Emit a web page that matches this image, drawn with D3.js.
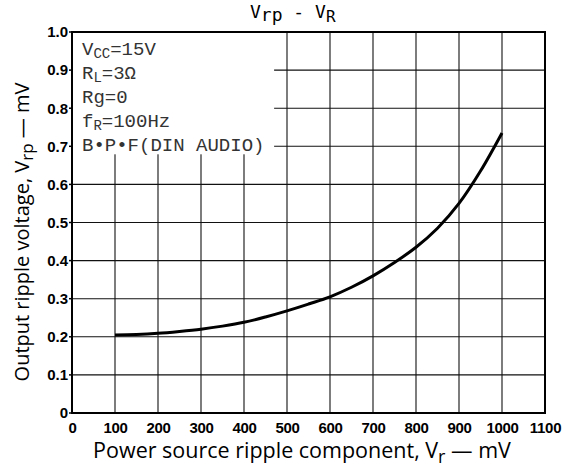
<!DOCTYPE html>
<html><head><meta charset="utf-8">
<script src="https://cdn.jsdelivr.net/npm/d3@7"></script>
<style>
body{margin:0;background:#fff;}
svg{display:block;}
</style></head>
<body>
<svg id="chart" width="570" height="471"></svg>
<script>
const xTicks = [0,100,200,300,400,500,600,700,800,900,1000,1100];
const yTicks = [0,0.1,0.2,0.3,0.4,0.5,0.6,0.7,0.8,0.9,1.0];
const yTickLabels = ["0","0.1","0.2","0.3","0.4","0.5","0.6","0.7","0.8","0.9","1.0"];
const vr  = [100,150,200,250,300,350,400,450,500,550,600,650,700,750,800,850,900,950,1000];
const vrp = [0.205,0.206,0.209,0.214,0.220,0.228,0.238,0.252,0.268,0.286,0.305,0.330,0.360,0.395,0.435,0.485,0.550,0.635,0.735];
const notes = ["VCC=15V","RL=3Ω","Rg=0","fR=100Hz","B•P•F(DIN AUDIO)"];

const svg = d3.select("#chart");
const L=72, R=545, T=32, B=413;
const x = d3.scaleLinear().domain([0,1100]).range([L,R]);
const y = d3.scaleLinear().domain([0,1.0]).range([B,T]);

// grid
const g = svg.append("g");
g.selectAll("line.v").data(xTicks.slice(1,-1)).join("line")
  .attr("x1",d=>x(d)).attr("x2",d=>x(d)).attr("y1",T).attr("y2",B)
  .attr("stroke","#111").attr("stroke-width",1.1);
g.selectAll("line.h").data(yTicks.slice(1,-1)).join("line")
  .attr("x1",L).attr("x2",R).attr("y1",d=>y(d)).attr("y2",d=>y(d))
  .attr("stroke","#111").attr("stroke-width",1.1);

// annotation box (covers grid)
svg.append("rect").attr("x",L+1).attr("y",T+1).attr("width",x(470)-L-1).attr("height",y(0.7)+7-T)
  .attr("fill","#fff");

// frame
svg.append("rect").attr("x",L).attr("y",T).attr("width",R-L).attr("height",B-T)
  .attr("fill","none").attr("stroke","#000").attr("stroke-width",2);

// left ticks
svg.selectAll("line.lt").data(yTicks).join("line")
  .attr("x1",L-3).attr("x2",L).attr("y1",d=>y(d)).attr("y2",d=>y(d))
  .attr("stroke","#000").attr("stroke-width",1.5);

const narrow = "'Liberation Sans Narrow','Liberation Sans',Arial,sans-serif";
// axes labels
const yAxis = d3.axisLeft(y).tickValues(yTicks).tickFormat((d,i)=>yTickLabels[i]).tickSize(0).tickPadding(4);
const ya = svg.append("g").attr("transform",`translate(${L},0)`).call(yAxis);
ya.select(".domain").remove();
ya.selectAll("text").attr("font-family",narrow)
  .attr("font-weight","bold").attr("font-size",15).attr("fill","#000");

const xAxis = d3.axisBottom(x).tickValues(xTicks).tickFormat(d3.format("d")).tickSize(0).tickPadding(9);
const xa = svg.append("g").attr("transform",`translate(0,${B})`).call(xAxis);
xa.select(".domain").remove();
xa.selectAll("text").attr("font-family",narrow)
  .attr("font-weight","bold").attr("font-size",15).attr("fill","#000").attr("letter-spacing","-0.3");

// curve
const line = d3.line().x((d,i)=>x(vr[i])).y(d=>y(d)).curve(d3.curveCatmullRom);
svg.append("path").datum(vrp).attr("d",line).attr("fill","none").attr("stroke","#000").attr("stroke-width",3);

// annotations
const mono = "'Liberation Mono','DejaVu Sans Mono',monospace";
const ann = svg.append("g").attr("font-family",mono).attr("font-size",19).attr("fill","#333");
function addLine(yy, parts){
  const t = ann.append("text").attr("x",82).attr("y",yy);
  parts.forEach(p=>{
    const s = t.append("tspan").text(p[0]);
    if(p[1]==="sub") s.attr("baseline-shift","-18%").attr("font-size",14);
  });
  return t;
}
addLine(55,[["V"],["CC","sub"],["=15V"]]);
addLine(79,[["R"],["L","sub"],["=3Ω"]]);
addLine(103,[["Rg=0"]]);
addLine(127,[["f"],["R","sub"],["=100Hz"]]);
addLine(151,[[notes[4]]]);

// title
const tt = svg.append("text").attr("x",250).attr("y",18).attr("font-family","'DejaVu Sans Mono',monospace")
  .attr("font-size",18).attr("fill","#000");
tt.append("tspan").text("V");
tt.append("tspan").text("rp").attr("baseline-shift","-15%");
tt.append("tspan").text(" - V");
tt.append("tspan").text("R").attr("baseline-shift","-25%").attr("font-size",16);

// axis titles
const sans = "'Open Sans','Liberation Sans',Arial,sans-serif";
const xt = svg.append("text").attr("x",302).attr("y",458).attr("text-anchor","middle")
  .attr("font-family",sans).attr("font-size",21.5).attr("fill","#000");
xt.append("tspan").text("Power source ripple component, V");
xt.append("tspan").text("r").attr("baseline-shift","-25%").attr("font-size",18);
xt.append("tspan").text(" — mV");

const yt = svg.append("text").attr("transform",`translate(29,232) rotate(-90)`).attr("text-anchor","middle")
  .attr("font-family",sans).attr("font-size",20).attr("fill","#000");
yt.append("tspan").text("Output ripple voltage, V");
yt.append("tspan").text("rp").attr("baseline-shift","-25%").attr("font-size",17);
yt.append("tspan").text(" — mV");
</script>
</body></html>
